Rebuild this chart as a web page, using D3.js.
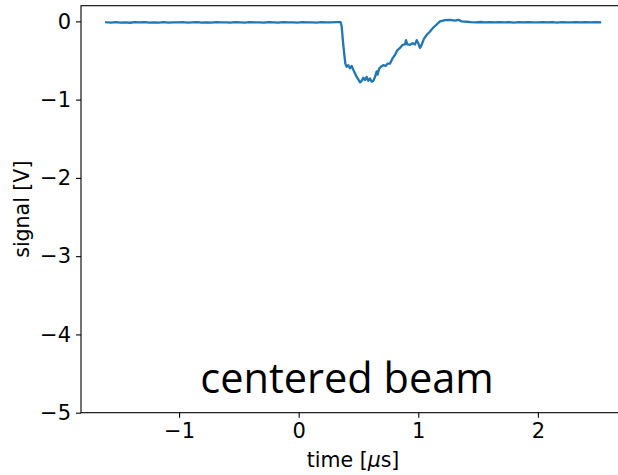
<!DOCTYPE html>
<html>
<head>
<meta charset="utf-8">
<script src="https://cdn.jsdelivr.net/npm/d3@7"></script>
<style>
  html, body { margin: 0; padding: 0; background: #fff; }
  svg { display: block; }
</style>
</head>
<body>
<svg id="chart" width="618" height="475"></svg>
<script>
// Beam pick-up signal versus time
const timeUs = [
  -1.61,-1.57,-1.53,-1.49,-1.45,-1.41,-1.37,-1.33,-1.29,-1.25,-1.21,-1.17,-1.13,-1.09,-1.05,-1.01,
  -0.97,-0.93,-0.89,-0.85,-0.81,-0.77,-0.73,-0.69,-0.65,-0.61,-0.57,-0.53,-0.49,-0.45,-0.41,-0.37,
  -0.33,-0.29,-0.25,-0.21,-0.17,-0.13,-0.09,-0.05,-0.01,0.03,0.07,0.11,0.15,0.19,0.23,0.27,0.31,
  0.351,0.360,0.368,0.379,0.390,0.401,0.415,0.429,0.443,0.457,0.471,0.485,0.498,0.513,0.527,0.540,
  0.554,0.569,0.582,0.596,0.610,0.624,0.638,0.652,0.660,0.674,0.688,0.707,0.727,0.744,0.763,0.786,
  0.805,0.824,0.847,0.870,0.889,0.897,0.908,0.931,0.953,0.972,0.987,1.000,1.014,1.028,1.048,1.070,
  1.098,1.125,1.154,1.181,1.223,1.265,1.307,1.335,1.363,1.405,
  1.44,1.48,1.52,1.56,1.60,1.64,1.68,1.72,1.76,1.80,1.84,1.88,1.92,1.96,2.00,2.04,2.08,2.12,
  2.16,2.20,2.24,2.28,2.32,2.36,2.40,2.44,2.48,2.52
];
const signalV = [
  -0.012,-0.016,-0.010,-0.015,-0.013,-0.018,-0.011,-0.014,-0.009,-0.016,-0.012,-0.015,-0.010,-0.017,-0.012,-0.014,
  -0.011,-0.016,-0.013,-0.010,-0.015,-0.012,-0.017,-0.011,-0.014,-0.012,-0.016,-0.010,-0.013,-0.015,-0.011,-0.014,
  -0.012,-0.016,-0.010,-0.013,-0.015,-0.011,-0.014,-0.012,-0.016,-0.010,-0.013,-0.012,-0.015,-0.011,-0.014,-0.012,-0.010,
  -0.010,-0.070,-0.220,-0.390,-0.540,-0.580,-0.560,-0.600,-0.570,-0.620,-0.665,-0.710,-0.740,-0.780,-0.760,-0.720,
  -0.750,-0.710,-0.760,-0.730,-0.770,-0.760,-0.710,-0.640,-0.680,-0.600,-0.580,-0.560,-0.570,-0.540,-0.540,-0.470,
  -0.430,-0.370,-0.340,-0.300,-0.295,-0.240,-0.295,-0.300,-0.280,-0.295,-0.240,-0.280,-0.340,-0.300,-0.220,-0.175,
  -0.130,-0.080,-0.040,0.000,0.015,0.020,0.010,0.020,0.000,-0.005,
  -0.010,-0.013,-0.008,-0.012,-0.010,-0.014,-0.009,-0.012,-0.011,-0.015,-0.010,-0.013,-0.009,-0.012,-0.014,-0.010,-0.013,-0.011,
  -0.015,-0.010,-0.012,-0.014,-0.009,-0.013,-0.011,-0.012,-0.010,-0.013
];
const xTicks = [-1, 0, 1, 2];
const yTicks = [0, -1, -2, -3, -4, -5];
const xDomain = [-1.82, 2.73];
const yDomain = [-5, 0.2];
const annotation = "centered beam";

const svg = d3.select("#chart");
const plotLeft = 81, plotRight = 625.2, plotTop = 5.7, plotBottom = 412.7;

const x = d3.scaleLinear().domain(xDomain).range([plotLeft, plotRight]);
const y = d3.scaleLinear().domain(yDomain).range([plotBottom, plotTop]);

svg.append("rect").attr("width", 618).attr("height", 475).attr("fill", "#fff");

const points = timeUs.map((t, i) => [t, signalV[i]]);

svg.append("path")
  .datum(points)
  .attr("fill", "none")
  .attr("stroke", "#1f77b4")
  .attr("stroke-width", 2.3)
  .attr("stroke-linejoin", "round")
  .attr("stroke-linecap", "square")
  .attr("d", d3.line().x(d => x(d[0])).y(d => y(d[1])));

const tickFont = "'DejaVu Sans', sans-serif";

const xAxis = svg.append("g")
  .attr("transform", `translate(0,${plotBottom})`)
  .call(d3.axisBottom(x).tickValues(xTicks).tickSize(5).tickPadding(5).tickSizeOuter(0)
        .tickFormat(d => d3.format("d")(d)));
const yAxis = svg.append("g")
  .attr("transform", `translate(${plotLeft},0)`)
  .call(d3.axisLeft(y).tickValues(yTicks).tickSize(5).tickPadding(5).tickSizeOuter(0)
        .tickFormat(d => d3.format("d")(d)));

[xAxis, yAxis].forEach(g => {
  g.select(".domain").remove();
  g.selectAll(".tick line").attr("stroke", "#000").attr("stroke-width", 1.1);
  g.selectAll(".tick text").attr("fill", "#000")
    .style("font-family", tickFont).style("font-size", "21px");
});

// frame
svg.append("rect")
  .attr("x", plotLeft).attr("y", plotTop)
  .attr("width", plotRight - plotLeft).attr("height", plotBottom - plotTop)
  .attr("fill", "none").attr("stroke", "#000").attr("stroke-width", 1.1);

svg.append("text")
  .attr("x", (plotLeft + plotRight) / 2).attr("y", 467)
  .attr("text-anchor", "middle")
  .style("font-family", tickFont).style("font-size", "20.5px")
  .html('time [<tspan font-style="italic">μ</tspan>s]');

svg.append("text")
  .attr("transform", `translate(29,${(plotTop + plotBottom) / 2}) rotate(-90)`)
  .attr("text-anchor", "middle")
  .style("font-family", tickFont).style("font-size", "20.5px")
  .text("signal [V]");

svg.append("text")
  .attr("x", 347).attr("y", 393)
  .attr("text-anchor", "middle")
  .style("font-family", "'Open Sans', sans-serif").style("font-size", "41.5px")
  .text(annotation);
</script>
</body>
</html>
